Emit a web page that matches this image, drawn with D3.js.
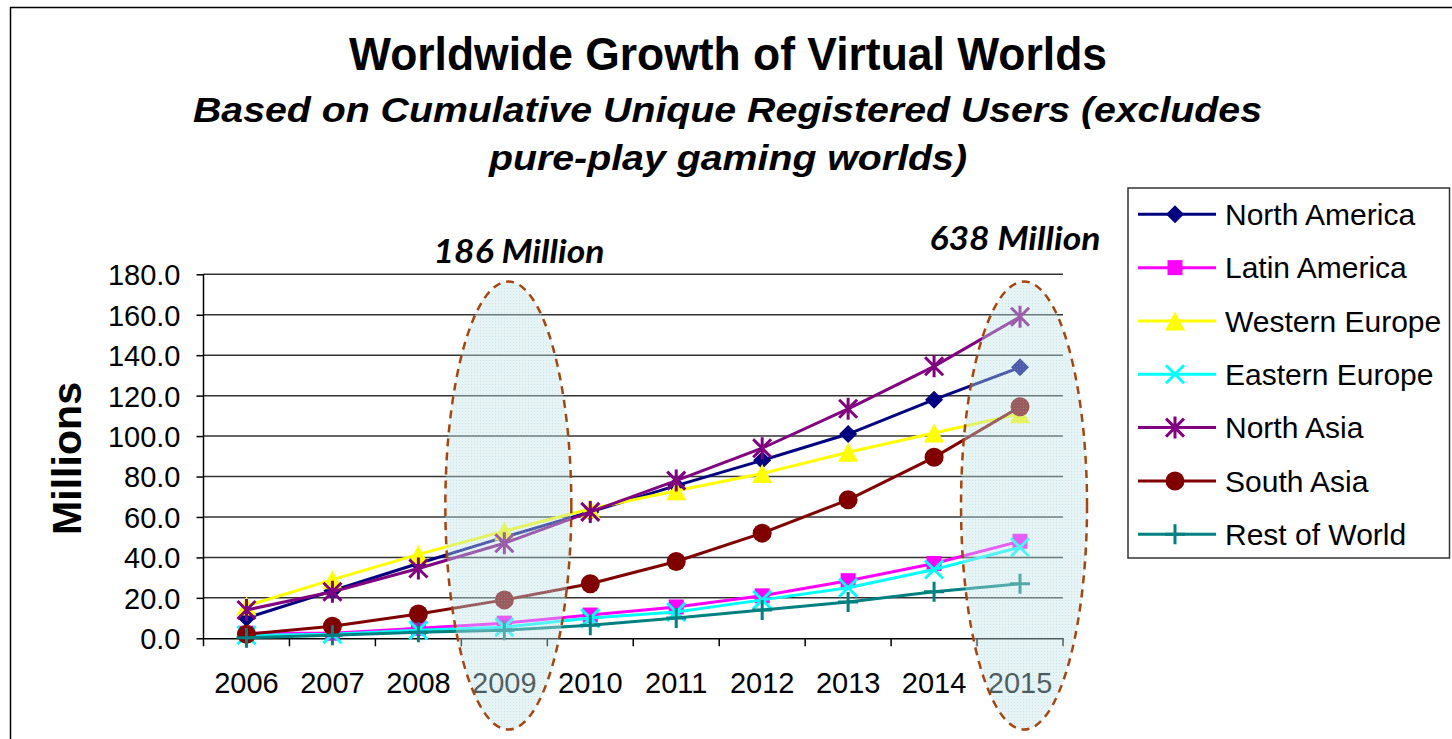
<!DOCTYPE html>
<html>
<head>
<meta charset="utf-8">
<script src="https://cdn.jsdelivr.net/npm/d3@7"></script>
<style>
  html, body { margin: 0; padding: 0; background: #fff; }
  svg { display: block; }
</style>
</head>
<body>
<svg id="chart" width="1452" height="739"></svg>
<script>
// ---- Data ----
const years = ["2006","2007","2008","2009","2010","2011","2012","2013","2014","2015"];
const yTicks = [0,20,40,60,80,100,120,140,160,180];
const seriesNames = ["North America","Latin America","Western Europe","Eastern Europe","North Asia","South Asia","Rest of World"];
const northAmerica  = [10, 23.5, 37, 50, 62.5, 75.5, 88, 101, 118, 134];
const latinAmerica  = [2.5, 2.5, 5, 7.5, 11.5, 15.5, 21, 28.5, 37, 48];
const westernEurope = [16, 29, 41.5, 53, 64, 73, 81.5, 92, 101.5, 111];
const easternEurope = [1.5, 2, 4, 5.5, 10, 13, 19, 25, 34, 45];
const northAsia     = [14, 23, 34.5, 47, 62.5, 78, 94, 113.5, 134.5, 159];
const southAsia     = [2, 6, 12, 19, 27, 38, 52, 68.5, 89.5, 114.5];
const restOfWorld   = [0.3, 1.5, 3, 4, 6.5, 10, 14, 18, 23, 27];
const highlights = [{year:"2009", label:"186 Million"}, {year:"2015", label:"638 Million"}];

const colors  = ["#000080","#FF00FF","#FFFF00","#00FFFF","#800080","#800000","#008080"];
const markers = ["diamond","square","triangle","x","asterisk","circle","plus"];
const seriesValues = [northAmerica, latinAmerica, westernEurope, easternEurope, northAsia, southAsia, restOfWorld];
const series = seriesNames.map((n,i)=>({name:n, color:colors[i], marker:markers[i], values:seriesValues[i]}));

// ---- Layout ----
const svg = d3.select("#chart");
const FONT = "'Liberation Sans', Arial, Helvetica, sans-serif";
const x = d3.scaleBand().domain(years).range([203.5, 1063]);
const y = d3.scaleLinear().domain([0,180]).range([638.3, 274.3]);
const cx = d => x(d) + x.bandwidth()/2;

// outer border
svg.append("rect").attr("x",10.5).attr("y",7.5).attr("width",1500).attr("height",800)
  .attr("fill","#fff").attr("stroke","#000").attr("stroke-width",1.5);

// defs: pattern for ellipses
const defs = svg.append("defs");
const pat = defs.append("pattern").attr("id","dots").attr("width",3).attr("height",3)
  .attr("patternUnits","userSpaceOnUse");
pat.append("rect").attr("width",3).attr("height",3).attr("fill","rgba(195,228,232,0.4)");
pat.append("rect").attr("width",1).attr("height",1).attr("fill","rgba(140,195,200,0.3)");

// gridlines
svg.append("g").selectAll("line").data(yTicks.filter(t=>t>0)).join("line")
  .attr("x1",203.5).attr("x2",1063).attr("y1",d=>y(d)).attr("y2",d=>y(d))
  .attr("stroke","#333").attr("stroke-width",1.5);

// y axis
const yAxis = svg.append("g").attr("transform","translate(203.5,0)")
  .call(d3.axisLeft(y).tickValues(yTicks).tickSize(7).tickFormat(d3.format(".1f")));
yAxis.select(".domain").remove();
yAxis.append("line").attr("x1",0).attr("x2",0).attr("y1",y(180)).attr("y2",y(0)+8).attr("stroke","#000").attr("stroke-width",1.5);
yAxis.selectAll(".tick line").attr("stroke","#000").attr("stroke-width",1.5);
yAxis.selectAll(".tick text").attr("x",-23).attr("dy","0.36em")
  .attr("font-family",FONT).attr("font-size",29).attr("fill","#000");

// x axis
const xAxis = svg.append("g").attr("transform",`translate(0,${y(0)})`)
  .call(d3.axisBottom(x).tickSize(0).tickSizeOuter(0));
xAxis.select(".domain").attr("stroke","#000").attr("stroke-width",1.5);
xAxis.selectAll(".tick text").attr("y",0).attr("dy",55)
  .attr("font-family",FONT).attr("font-size",29).attr("fill","#000");
// x ticks at band boundaries
const bounds = years.map(d=>x(d)).concat([x(years[years.length-1])+x.bandwidth()]).slice(1);
svg.append("g").selectAll("line").data(bounds).join("line")
  .attr("x1",d=>d).attr("x2",d=>d).attr("y1",y(0)).attr("y2",y(0)+8)
  .attr("stroke","#000").attr("stroke-width",1.5);

// marker drawing
function drawMarker(g, type, color, s) {
  s = s || 1;
  if (type==="diamond") {
    const r=9*s; g.append("path").attr("d",`M0,${-r}L${r},0L0,${r}L${-r},0Z`).attr("fill",color);
  } else if (type==="square") {
    const r=7.5*s; g.append("rect").attr("x",-r).attr("y",-r).attr("width",2*r).attr("height",2*r).attr("fill",color);
  } else if (type==="triangle") {
    const w=10*s,h=9.5*s; g.append("path").attr("d",`M0,${-h}L${w},${h}L${-w},${h}Z`).attr("fill",color);
  } else if (type==="x") {
    const r=9*s; g.append("path").attr("d",`M${-r},${-r}L${r},${r}M${-r},${r}L${r},${-r}`).attr("stroke",color).attr("stroke-width",3);
  } else if (type==="asterisk") {
    const r=9*s; g.append("path").attr("d",`M${-r},${-r}L${r},${r}M${-r},${r}L${r},${-r}M0,${-r-2}L0,${r+2}`).attr("stroke",color).attr("stroke-width",3);
  } else if (type==="circle") {
    g.append("circle").attr("r",9.5*s).attr("fill",color);
  } else if (type==="plus") {
    const r=10*s; g.append("path").attr("d",`M0,${-r}L0,${r}M${-r},0L${r},0`).attr("stroke",color).attr("stroke-width",3);
  }
}

// lines and markers
const line = d3.line().x((d,i)=>cx(years[i])).y(d=>y(d));
const plot = svg.append("g");
series.forEach(s=>{
  plot.append("path").attr("d",line(s.values)).attr("fill","none")
    .attr("stroke",s.color).attr("stroke-width",3);
  s.values.forEach((v,i)=>{
    const g = plot.append("g").attr("transform",`translate(${cx(years[i])},${y(v)})`);
    drawMarker(g, s.marker, s.color);
  });
});

// highlight ellipses
highlights.forEach(h=>{
  svg.append("ellipse").attr("cx",cx(h.year)+4).attr("cy",505.5).attr("rx",63).attr("ry",224)
    .attr("fill","url(#dots)").attr("stroke","#a5450f").attr("stroke-width",2.5)
    .attr("stroke-dasharray","8,6");
});
// annotations
svg.append("text").attr("x",519).attr("y",263).attr("text-anchor","middle")
  .attr("font-family","Lato, 'Open Sans', sans-serif").attr("font-weight","bold").attr("font-style","italic")
  .attr("font-size",32).attr("textLength",171).attr("lengthAdjust","spacingAndGlyphs").text(highlights[0].label);
svg.append("text").attr("x",1015).attr("y",249.5).attr("text-anchor","middle")
  .attr("font-family","Lato, 'Open Sans', sans-serif").attr("font-weight","bold").attr("font-style","italic")
  .attr("font-size",32).attr("textLength",171).attr("lengthAdjust","spacingAndGlyphs").text(highlights[1].label);

// titles
svg.append("text").attr("x",728).attr("y",70).attr("text-anchor","middle")
  .attr("font-family",FONT).attr("font-weight","bold").attr("font-size",46)
  .attr("textLength",758).attr("lengthAdjust","spacingAndGlyphs")
  .text("Worldwide Growth of Virtual Worlds");
svg.append("text").attr("x",727.5).attr("y",122).attr("text-anchor","middle")
  .attr("font-family",FONT).attr("font-weight","bold").attr("font-style","italic").attr("font-size",35)
  .attr("textLength",1069).attr("lengthAdjust","spacingAndGlyphs")
  .text("Based on Cumulative Unique Registered Users (excludes");
svg.append("text").attr("x",728).attr("y",170).attr("text-anchor","middle")
  .attr("font-family",FONT).attr("font-weight","bold").attr("font-style","italic").attr("font-size",35)
  .attr("textLength",478).attr("lengthAdjust","spacingAndGlyphs")
  .text("pure-play gaming worlds)");

// y axis title
svg.append("text").attr("transform","translate(81,458.5) rotate(-90)").attr("text-anchor","middle")
  .attr("font-family",FONT).attr("font-weight","bold").attr("font-size",40)
  .attr("textLength",153).attr("lengthAdjust","spacingAndGlyphs").text("Millions");

// legend
const lg = svg.append("g");
lg.append("rect").attr("x",1128).attr("y",188).attr("width",321.5).attr("height",370)
  .attr("fill","#fff").attr("stroke","#333").attr("stroke-width",1.5);
series.forEach((s,i)=>{
  const yy = 214.3 + i*53.33;
  lg.append("line").attr("x1",1138).attr("x2",1216).attr("y1",yy).attr("y2",yy)
    .attr("stroke",s.color).attr("stroke-width",3);
  const g = lg.append("g").attr("transform",`translate(1175,${yy})`);
  drawMarker(g, s.marker, s.color);
  lg.append("text").attr("x",1225).attr("y",yy).attr("dy","0.36em")
    .attr("font-family",FONT).attr("font-size",30).attr("fill","#000").text(s.name);
});
</script>
</body>
</html>
